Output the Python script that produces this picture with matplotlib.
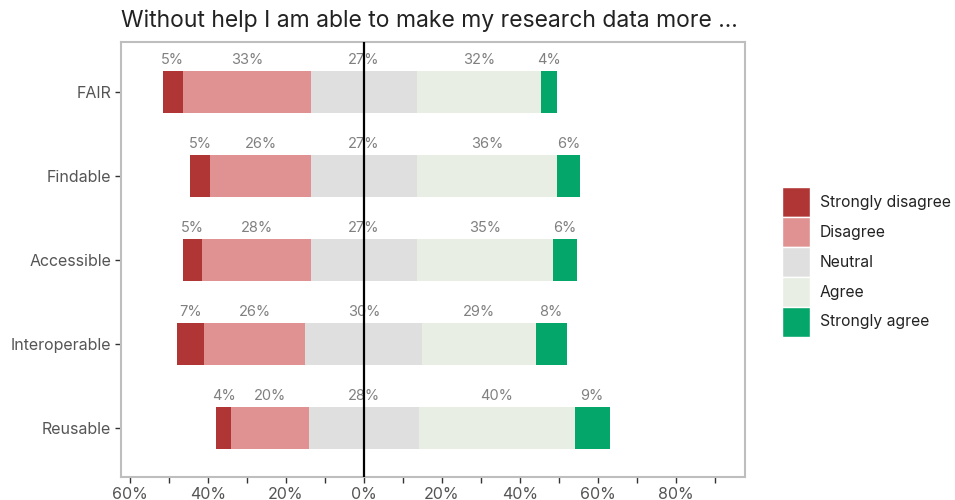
import numpy as np
import matplotlib
matplotlib.use("Agg")
import matplotlib.pyplot as plt
from matplotlib.patches import Patch

plt.rcParams["font.family"] = ["Inter", "DejaVu Sans"]

items = ["FAIR", "Findable", "Accessible", "Interoperable", "Reusable"]
levels = ["Strongly disagree", "Disagree", "Neutral", "Agree", "Strongly agree"]
colors = ["#B03535", "#E09191", "#DFDFDF", "#E8EEE3", "#05A66A"]

strongly_disagree = [5, 5, 5, 7, 4]
disagree = [33, 26, 28, 26, 20]
neutral = [27, 27, 27, 30, 28]
agree = [32, 36, 35, 29, 40]
strongly_agree = [4, 6, 6, 8, 9]

fig = plt.figure(figsize=(9.55, 5), dpi=100)
ax = fig.add_axes([121 / 955, 23 / 500, 624 / 955, 435 / 500])

ypos = np.arange(len(items))[::-1] + 1
h = 0.5
label_kw = dict(ha="center", va="center", fontsize=10.5, color="#808080")

for i, y in enumerate(ypos):
    vals = [strongly_disagree[i], disagree[i], neutral[i], agree[i], strongly_agree[i]]
    left_start = -(vals[0] + vals[1] + vals[2] / 2)
    x = left_start
    for v, c in zip(vals, colors):
        ax.barh(y, v, left=x, height=h, color=c, linewidth=0)
        ax.text(x + v / 2, y + 0.38, f"{v}%", **label_kw)
        x += v

ax.axvline(0, color="black", linewidth=1.6, zorder=5)

ax.set_xlim(-62.3, 97.7)
ax.set_ylim(0.42, 5.595)
ax.set_yticks(ypos)
ax.set_yticklabels(items, fontsize=11.5, color="#555555")
ax.set_xticks(np.arange(-60, 91, 10))
ax.set_xticklabels([f"{abs(t)}%" if t % 20 == 0 else "" for t in range(-60, 91, 10)],
                   fontsize=11.5, color="#555555")
ax.tick_params(axis="both", length=4, width=1, color="#333333", pad=3)
for s in ax.spines.values():
    s.set_color("#BEBEBE")
    s.set_linewidth(1.5)

fig.text(121 / 955, 1 - 21 / 500, "Without help I am able to make my research data more ...",
         fontsize=16.5, color="#222222", ha="left", va="center")

handles = [Patch(facecolor=c, edgecolor="white", linewidth=1) for c in colors]
fig.legend(handles, levels, loc="center left", bbox_to_anchor=(782 / 955, 1 - 262 / 500),
           frameon=False, fontsize=11.3, handlelength=1.8, handleheight=2.55,
           labelspacing=0.0, handletextpad=0.6, borderpad=0, borderaxespad=0,
           labelcolor="#222222")

fig.savefig("out.png", dpi=100)
